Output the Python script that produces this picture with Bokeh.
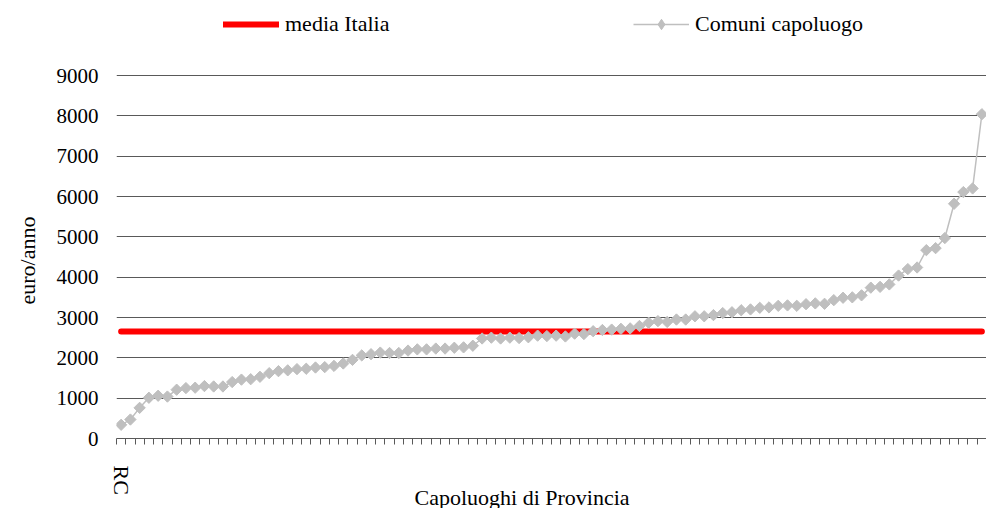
import math
from bokeh.plotting import figure
from bokeh.models import Range1d, LinearAxis, FixedTicker, Legend, LegendItem, Title
from bokeh.embed import file_html
from bokeh.resources import INLINE

# ---- data ----
comuni = [340, 470, 760, 1010, 1060, 1040, 1210, 1250, 1260, 1300,
          1290, 1290, 1400, 1460, 1470, 1530, 1620, 1670, 1690, 1720,
          1730, 1760, 1770, 1800, 1860, 1950, 2060, 2090, 2130, 2120,
          2120, 2180, 2210, 2210, 2230, 2230, 2250, 2260, 2300, 2480,
          2500, 2480, 2500, 2490, 2510, 2550, 2540, 2550, 2530, 2600,
          2590, 2660, 2690, 2700, 2720, 2730, 2790, 2870, 2910, 2890,
          2950, 2950, 3030, 3030, 3060, 3110, 3130, 3180, 3200, 3240,
          3250, 3290, 3300, 3290, 3330, 3350, 3340, 3430, 3490, 3500,
          3550, 3740, 3760, 3820, 4040, 4200, 4240, 4670, 4720, 4970,
          5820, 6110, 6200, 8040]
media_italia = 2650
x_labels = ["RC"] + [""] * (len(comuni) - 1)
y_ticks = [0, 1000, 2000, 3000, 4000, 5000, 6000, 7000, 8000, 9000]
series_names = ["media Italia", "Comuni capoluogo"]
x_title = "Capoluoghi di Provincia"
y_title = "euro/anno"

n = len(comuni)
xs = list(range(1, n + 1))
FONT = "Liberation Serif"

W, H = 986, 508
BORDER_L, BORDER_B = 115, 70
frame_h = H - BORDER_B
top_gap = 75            # room above the 9000 gridline, used by the legend
y_end = y_ticks[-1] * frame_h / (frame_h - top_gap)

p = figure(width=W, height=H, output_backend="svg", toolbar_location=None,
           title=None,
           x_range=Range1d(0.5, n + 0.5), y_range=Range1d(y_ticks[0], y_end),
           min_border_left=BORDER_L, min_border_right=0, min_border_top=0,
           min_border_bottom=BORDER_B)
p.outline_line_color = None
p.background_fill_color = "white"
p.border_fill_color = "white"

# y axis (tick labels only)
ya = p.yaxis[0]
ya.ticker = FixedTicker(ticks=y_ticks)
ya.axis_line_color = None
ya.major_tick_line_color = None
ya.minor_tick_line_color = None
ya.major_tick_in = 0
ya.major_tick_out = 0
ya.minor_tick_out = 0
ya.major_label_standoff = 18
ya.major_label_text_font = FONT
ya.major_label_text_font_size = "21px"
ya.major_label_text_color = "black"

# y title, placed left of the tick labels
p.add_layout(Title(text=y_title, align="left", offset=134, vertical_align="middle",
                   standoff=26, text_font=FONT, text_font_size="22px",
                   text_font_style="normal", text_color="black"), "left")

p.ygrid.ticker = FixedTicker(ticks=y_ticks)
p.ygrid.grid_line_color = "#595959"
p.ygrid.grid_line_width = 1
p.xgrid.visible = False

# x axis: tick marks between categories
xa = p.xaxis[0]
xa.ticker = FixedTicker(ticks=[i + 0.5 for i in range(0, n + 1)])
xa.axis_line_color = "#595959"
xa.major_tick_line_color = "#595959"
xa.major_tick_in = 0
xa.major_tick_out = 6
xa.minor_tick_line_color = None
xa.major_label_text_font_size = "1px"
xa.major_label_text_color = None
xa.major_label_standoff = 0
xa.axis_label_standoff = 0

# x axis: category labels
lab_ticks = [i + 1 for i, t in enumerate(x_labels) if t]
xb = LinearAxis(ticker=FixedTicker(ticks=lab_ticks),
                major_label_overrides={i + 1: t for i, t in enumerate(x_labels) if t},
                axis_line_color=None, major_tick_line_color=None,
                minor_tick_line_color=None, major_tick_out=0, major_tick_in=0,
                major_label_orientation=-math.pi / 2, major_label_standoff=21,
                major_label_text_font=FONT, major_label_text_font_size="22px",
                major_label_text_color="black", axis_label_standoff=0)
p.add_layout(xb, "below")

# x title (overlaps the label band, as in the original)
p.add_layout(Title(text=x_title, align="left", offset=298, vertical_align="top",
                   standoff=-26, text_font=FONT, text_font_size="22px",
                   text_font_style="normal", text_color="black"), "below")

# series
r_red = p.line(xs, [media_italia] * n, line_color="#FF0000", line_width=6, line_cap="round")
r_gl = p.line(xs, comuni, line_color="#BFBFBF", line_width=1.5)
r_gs = p.scatter(xs, comuni, marker="square", angle=math.pi / 4, size=8,
                 fill_color="#BFBFBF", line_color="#BFBFBF")
r_key = p.scatter(xs, comuni, marker="diamond", fill_color="#BFBFBF",
                  line_color="#BFBFBF", visible=False)

common = dict(orientation="horizontal", glyph_width=56, glyph_height=26,
              label_height=26, label_standoff=6, padding=0, margin=0,
              border_line_color=None, background_fill_alpha=0,
              label_text_font=FONT, label_text_font_size="22px",
              label_text_color="black")
leg1 = Legend(items=[LegendItem(label=series_names[0], renderers=[r_red])],
              location=(107, 401), **common)
leg2 = Legend(items=[LegendItem(label=series_names[1], renderers=[r_gl, r_key])],
              location=(517, 401), **common)
p.add_layout(leg1)
p.add_layout(leg2)

open("out.html", "w").write(file_html(p, INLINE))
